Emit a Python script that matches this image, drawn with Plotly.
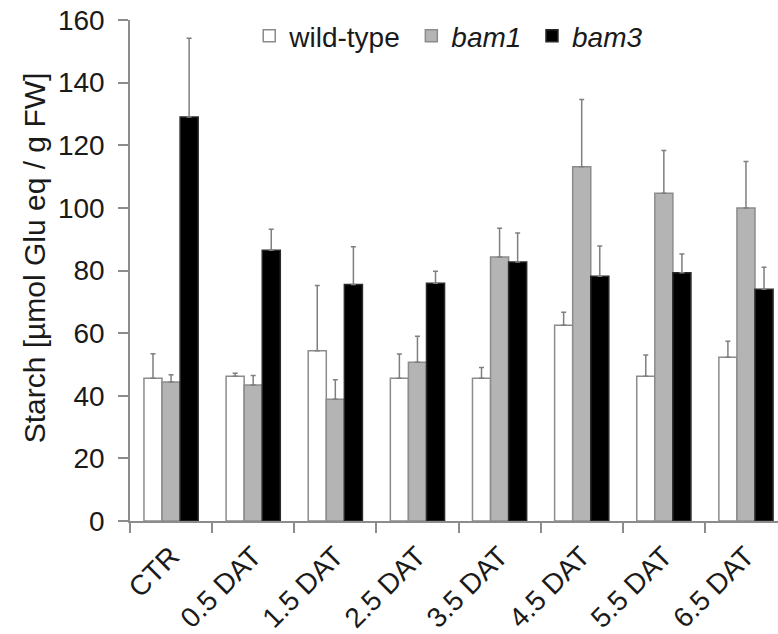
import plotly.graph_objects as go

categories = ["CTR", "0.5 DAT", "1.5 DAT", "2.5 DAT", "3.5 DAT", "4.5 DAT", "5.5 DAT", "6.5 DAT"]

wt_mean = [45.6, 46.2, 54.4, 45.6, 45.6, 62.5, 46.2, 52.3]
wt_err = [7.8, 1.0, 20.8, 7.7, 3.4, 4.2, 6.8, 5.1]

bam1_mean = [44.4, 43.4, 38.9, 50.7, 84.3, 113.1, 104.7, 100.0]
bam1_err = [2.3, 3.1, 6.2, 8.3, 9.2, 21.5, 13.6, 14.8]

bam3_mean = [129.0, 86.5, 75.5, 75.9, 82.7, 78.2, 79.3, 74.0]
bam3_err = [25.2, 6.7, 12.1, 3.9, 9.3, 9.6, 6.0, 7.0]

y_ticks = [0, 20, 40, 60, 80, 100, 120, 140, 160]
y_title = "Starch [µmol Glu eq / g FW]"

FONT = "Liberation Sans, Arial, sans-serif"
TEXT = "#1a1a1a"
AXIS_GREY = "#8c8c8c"
ERR_GREY = "#7f7f7f"
THIN = "\u2009"  # thin space widens the gap between legend entries

series = [
    ("wild-type" + THIN, wt_mean, wt_err, "#ffffff", "#8c8c8c"),
    ("<i>bam1</i>" + THIN, bam1_mean, bam1_err, "#b4b4b4", "#8c8c8c"),
    ("<i>bam3</i>", bam3_mean, bam3_err, "#000000", "#2a2a2a"),
]

fig = go.Figure()
for name, mean, err, fill, edge in series:
    fig.add_trace(go.Bar(
        x=categories,
        y=mean,
        name=name,
        marker=dict(color=fill, line=dict(color=edge, width=1.5)),
        error_y=dict(type="data", array=err, arrayminus=[0] * len(err),
                     symmetric=False, color=ERR_GREY, thickness=1.5, width=2.5),
    ))

# rotated y-axis title, placed as a paper-anchored annotation
fig.add_annotation(
    text=y_title, textangle=-90,
    xref="paper", yref="paper", x=-0.146, y=0.525,
    xanchor="center", yanchor="middle", showarrow=False,
    font=dict(family=FONT, size=30, color=TEXT),
)

fig.update_layout(
    width=778,
    height=634,
    margin=dict(l=130, r=0, t=19.5, b=112.5),
    paper_bgcolor="white",
    plot_bgcolor="white",
    barmode="group",
    bargap=0.34,
    bargroupgap=0,
    font=dict(family=FONT, size=28, color=TEXT),
    showlegend=True,
    legend=dict(
        orientation="h",
        x=0.184, xanchor="left",
        y=0.968, yanchor="middle",
        bgcolor="rgba(0,0,0,0)",
        font=dict(family=FONT, size=28, color=TEXT),
        traceorder="normal",
    ),
    xaxis=dict(
        type="category",
        range=[-0.5, 7.39],
        showline=True, linecolor=AXIS_GREY, linewidth=1.5,
        ticks="outside", tickson="boundaries", ticklen=10,
        tickcolor=AXIS_GREY, tickwidth=1.5,
        tickangle=-45,
        ticklabelstandoff=6,
        tickfont=dict(family=FONT, size=28, color=TEXT),
        showgrid=False, zeroline=False,
    ),
    yaxis=dict(
        range=[0, 160],
        tickvals=y_ticks,
        showline=True, linecolor=AXIS_GREY, linewidth=1.5,
        ticks="outside", ticklen=10, tickcolor=AXIS_GREY, tickwidth=1.5,
        ticklabelstandoff=8,
        tickfont=dict(family=FONT, size=28, color=TEXT),
        showgrid=False, zeroline=False,
    ),
)

fig.write_html("out.html")
